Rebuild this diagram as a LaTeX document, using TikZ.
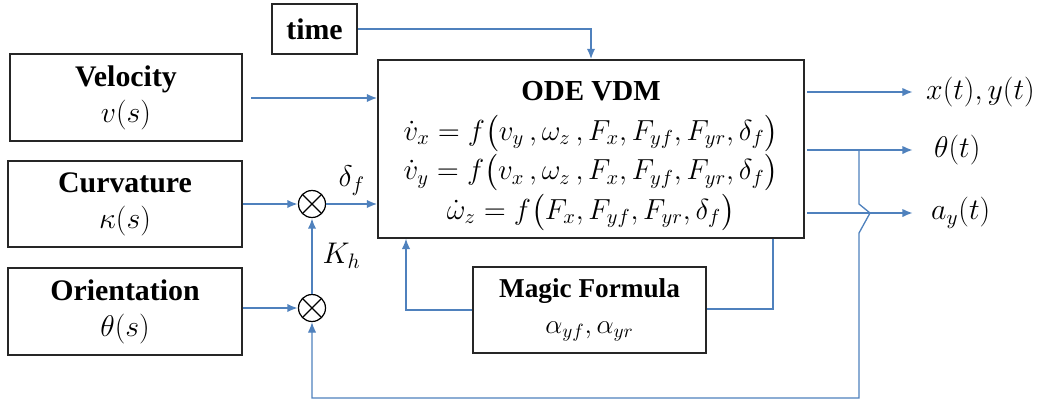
\RequirePackage{fix-cm}
\documentclass[tikz,border=0pt]{standalone}
\usepackage{amsmath}
\usepackage{fontspec}
\setmainfont{Liberation Serif}
\newfontfamily\blockfont{Liberation Serif}
\usetikzlibrary{arrows.meta}
\definecolor{flowblue}{HTML}{4F81BD}
\definecolor{boxgray}{HTML}{262626}

\begin{document}
\begin{tikzpicture}[x=0.02cm, y=-0.02cm, >=Latex,
  blockbox/.style={draw=boxgray, line width=0.7pt, align=center, inner sep=2pt,
    font=\blockfont\fontsize{17}{20.5}\selectfont},
  flow/.style={->, flowblue, line width=1.5pt, >={Latex[length=6pt,width=4.8pt]}},
  thinflow/.style={flowblue, line width=0.75pt},
  mixer/.style={circle, draw=black, line width=0.7pt, minimum size=0.54cm, inner sep=0pt,
    path picture={
      \draw[black, line width=0.7pt] (path picture bounding box.south west) -- (path picture bounding box.north east);
      \draw[black, line width=0.7pt] (path picture bounding box.north west) -- (path picture bounding box.south east);}},
  sig/.style={black, font=\fontsize{17}{20}\selectfont}]
  \useasboundingbox (0,0) rectangle (1050,403);

  % input blocks
  \node[blockbox, minimum width=4.64cm, minimum height=1.74cm] (vel)  at (126,97.5)  {\textbf{Velocity}\\$v(s)$};
  \node[blockbox, minimum width=4.68cm, minimum height=1.72cm] (curv) at (125,204)   {\textbf{Curvature}\\$\kappa(s)$};
  \node[blockbox, minimum width=4.68cm, minimum height=1.74cm] (ori)  at (125,311.5) {\textbf{Orientation}\\$\theta(s)$};
  \node[blockbox, minimum width=1.7cm, minimum height=1cm]     (time) at (314.5,29)  {\textbf{time}};

  % vehicle model and tyre model
  \node[blockbox, minimum width=8.52cm, minimum height=3.56cm,
        font=\blockfont\fontsize{16.5}{22.5}\selectfont] (ode) at (591,149)
    {\rule{0pt}{19pt}\textbf{ODE VDM}\\
     $\dot{v}_x = f\bigl(v_y\,,\omega_z\,,F_x, F_{yf}, F_{yr}, \delta_f\bigr)$\\
     $\dot{v}_y = f\bigl(v_x\,,\omega_z\,,F_x, F_{yf}, F_{yr}, \delta_f\bigr)$\\
     $\dot{\omega}_z = f\bigl(F_x, F_{yf}, F_{yr}, \delta_f\bigr)$};
  \node[blockbox, minimum width=4.66cm, minimum height=1.72cm,
        font=\blockfont\fontsize{15.5}{20.5}\selectfont] (magic) at (589.5,310)
    {\textbf{Magic Formula}\\$\alpha_{yf}, \alpha_{yr}$};

  % multipliers
  \node[mixer] (m1) at (312,204) {};
  \node[mixer] (m2) at (312,308) {};

  % outputs
  \coordinate (xyend) at (913,92);
  \coordinate (thend) at (913,150);
  \coordinate (ayend) at (913,213);
  \node[sig, anchor=west] (xyout) at (920,92)  {$x(t), y(t)$};
  \node[sig, anchor=west] (thout) at (928,150) {$\theta(t)$};
  \node[sig, anchor=west] (ayout) at (925,213) {$a_y(t)$};

  % helper points
  \coordinate (tap)   at (859,150);
  \coordinate (fbbot) at (859,398);
  \coordinate (mfr)   at (773,309);
  \coordinate (mfl)   at (406,310);

  % forward signals
  \draw[flow] ([xshift=5pt]vel.east |- 0,98) -- (ode.west |- 0,98);
  \draw[flow] (time.east) -| (ode.north);
  \draw[flow] (curv.east) -- (m1);
  \draw[flow] (m1) -- node[sig, above=1pt] {$\delta_f$} (ode.west |- m1);
  \draw[flow] (ori.east |- m2) -- (m2);
  \draw[flow] (m2) -- node[sig, right=2pt] {$K_h$} (m1);

  \draw[flow, shorten <=1.5pt] (ode.east |- xyend) -- (xyend);
  \draw[flow, shorten <=1.5pt] (ode.east |- thend) -- (thend);
  \draw[flow, shorten <=1.5pt] (ode.east |- ayend) -- (ayend);

  % tyre force loop
  \draw[thinflow] (ode.south -| mfr) -- (mfr) -- (magic.east |- mfr);
  \draw[thinflow, ->, >={Latex[length=6pt,width=4.8pt]}] (magic.west |- mfl) -- (mfl) -- (ode.south -| mfl);

  % orientation feedback, hopping over the a_y line
  \draw[thinflow, ->, >={Latex[length=6pt,width=4.8pt]}]
    (tap) -- (859,204) -- (870,213) -- (859,233) -- (fbbot) -| (m2.south);
\end{tikzpicture}
\end{document}
